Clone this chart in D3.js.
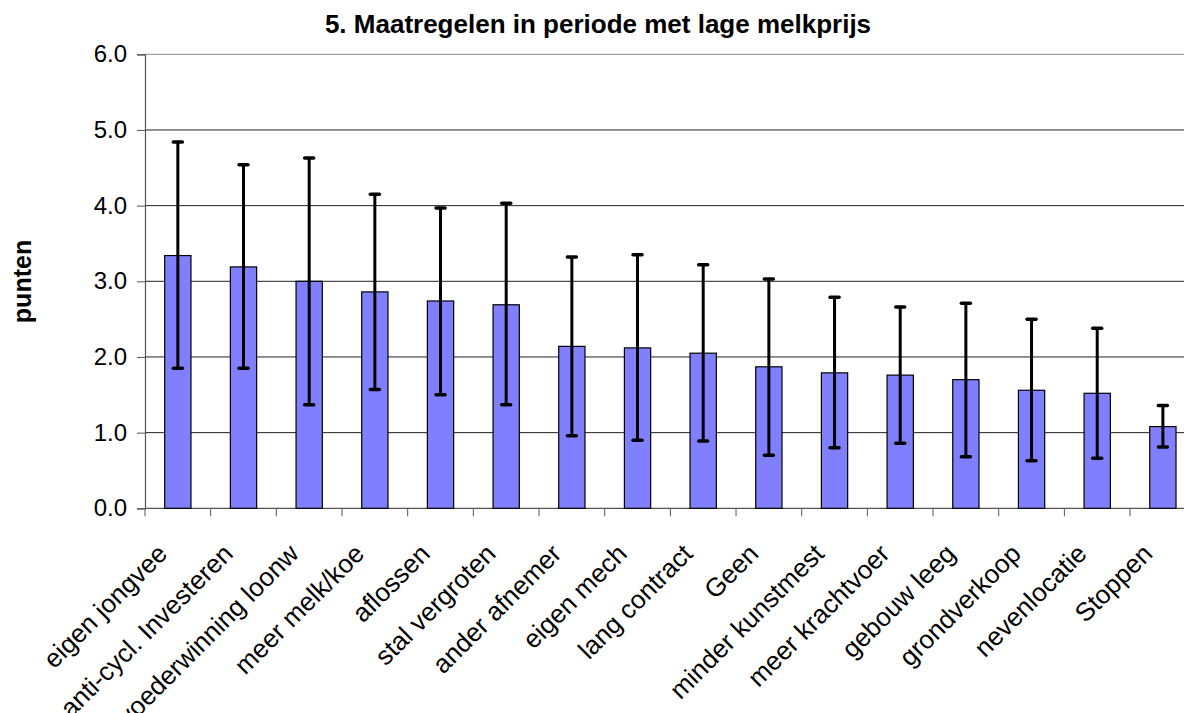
<!DOCTYPE html>
<html>
<head>
<meta charset="utf-8">
<script src="https://cdn.jsdelivr.net/npm/d3@7"></script>
<style>
  html, body { margin: 0; padding: 0; background: #fff; }
  svg { display: block; font-family: "Liberation Sans", Arial, sans-serif; }
</style>
</head>
<body>
<svg id="chart" width="1184" height="713"></svg>
<script>
const title = "5. Maatregelen in periode met lage melkprijs";
const yLabel = "punten";
const categories = ["eigen jongvee", "anti-cycl. Investeren", "voederwinning loonw", "meer melk/koe", "aflossen", "stal vergroten", "ander afnemer", "eigen mech", "lang contract", "Geen", "minder kunstmest", "meer krachtvoer", "gebouw leeg", "grondverkoop", "nevenlocatie", "Stoppen"];
const means = [3.34, 3.19, 3.00, 2.86, 2.74, 2.69, 2.14, 2.12, 2.05, 1.87, 1.79, 1.76, 1.70, 1.56, 1.52, 1.08];
const upper = [4.84, 4.54, 4.63, 4.15, 3.97, 4.03, 3.32, 3.35, 3.22, 3.03, 2.79, 2.66, 2.71, 2.50, 2.38, 1.36];
const lower = [1.85, 1.85, 1.37, 1.57, 1.50, 1.37, 0.96, 0.90, 0.89, 0.70, 0.80, 0.86, 0.68, 0.63, 0.66, 0.81];
const yTicks = [0, 1, 2, 3, 4, 5, 6];

(function () {
const svg = d3.select("#chart");
const plotLeft = 145, plotTop = 54.3, plotBottom = 508.3;
const bandW = 65.67;
const plotRight = plotLeft + bandW * categories.length;

const x = d3.scaleBand().domain(categories).range([plotLeft, plotRight]).padding(0);
const y = d3.scaleLinear().domain([0, 6]).range([plotBottom, plotTop]);

// gridlines
svg.append("g").selectAll("line").data(yTicks.filter(d => d > 0)).join("line")
  .attr("x1", plotLeft).attr("x2", plotRight)
  .attr("y1", d => y(d)).attr("y2", d => y(d))
  .attr("stroke", d => d === 6 ? "#888" : "#222").attr("stroke-width", 1);

// y axis
const yAxis = d3.axisLeft(y).tickValues(yTicks).tickFormat(d3.format(".1f")).tickSize(8).tickPadding(10);
const gy = svg.append("g").attr("transform", `translate(${plotLeft},0)`).call(yAxis);
gy.select(".domain").attr("stroke", "#555").attr("stroke-width", 1.2);
gy.selectAll(".tick line").attr("stroke", "#555");
gy.selectAll(".tick text").attr("font-size", 24).attr("fill", "#000")
  .attr("font-family", "Liberation Sans, Arial, sans-serif");

// x axis (ticks at band boundaries)
svg.append("line").attr("x1", plotLeft).attr("x2", plotRight).attr("y1", plotBottom).attr("y2", plotBottom)
  .attr("stroke", "#555").attr("stroke-width", 1.2);
svg.append("g").selectAll("line").data(categories).join("line")
  .attr("x1", d => x(d)).attr("x2", d => x(d))
  .attr("y1", plotBottom).attr("y2", plotBottom + 8)
  .attr("stroke", "#555");

// bars
const bw = x.bandwidth() * 0.4;
svg.append("g").selectAll("rect").data(categories).join("rect")
  .attr("x", d => x(d) + x.bandwidth() / 2 - bw / 2)
  .attr("width", bw)
  .attr("y", (d, i) => y(means[i]))
  .attr("height", (d, i) => y(0) - y(means[i]))
  .attr("fill", "#8080FF").attr("stroke", "#000").attr("stroke-width", 1.2);

// error bars
const eb = svg.append("g").attr("stroke", "#000");
categories.forEach((c, i) => {
  const cx = x(c) + x.bandwidth() / 2;
  eb.append("line").attr("x1", cx).attr("x2", cx).attr("y1", y(upper[i])).attr("y2", y(lower[i])).attr("stroke-width", 3);
  [upper[i], lower[i]].forEach(v => {
    eb.append("line").attr("x1", cx - 4.5).attr("x2", cx + 4.5).attr("y1", y(v)).attr("y2", y(v))
      .attr("stroke-width", 3.5).attr("stroke-linecap", "round");
  });
});

// category labels
svg.append("g").selectAll("text").data(categories).join("text")
  .attr("transform", d => `translate(${x(d) + x.bandwidth() / 2 - 9},${plotBottom + 47}) rotate(-45)`)
  .attr("text-anchor", "end")
  .attr("font-size", 26).attr("fill", "#000")
  .text(d => d);

// title
svg.append("text").attr("x", 598).attr("y", 33).attr("text-anchor", "middle")
  .attr("font-size", 26).attr("font-weight", "bold").text(title);

// y label
svg.append("text").attr("transform", `translate(31,${(240 + 323) / 2}) rotate(-90)`)
  .attr("text-anchor", "middle").attr("font-size", 25).attr("font-weight", "bold").text(yLabel);
})();
</script>
</body>
</html>
